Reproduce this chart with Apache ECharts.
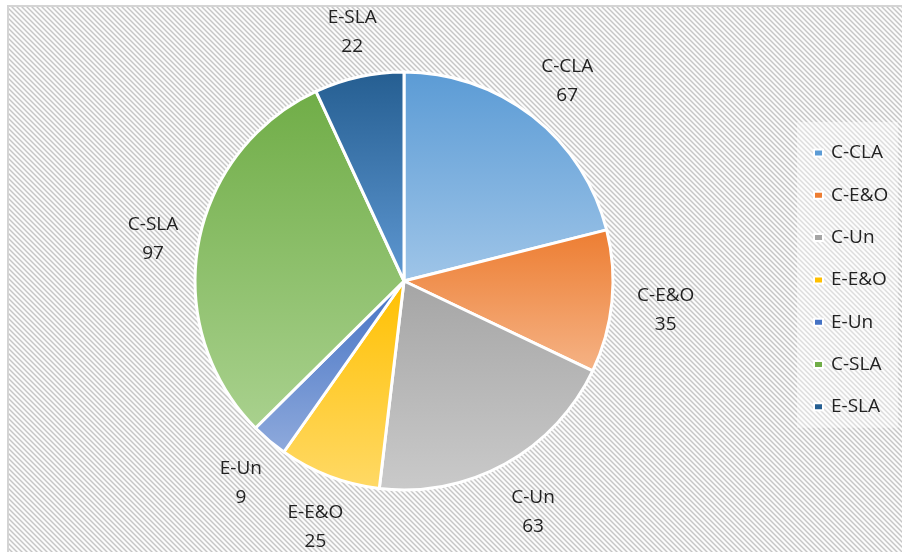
<!DOCTYPE html>
<html>
<head>
<meta charset="utf-8">
<script src="https://cdn.jsdelivr.net/npm/echarts@6/dist/echarts.min.js"></script>
<style>html,body{margin:0;padding:0;background:#fff}#c{width:902px;height:552px}</style>
</head>
<body>
<div id="c"></div>
<script>
var categories = ['C-CLA', 'C-E&O', 'C-Un', 'E-E&O', 'E-Un', 'C-SLA', 'E-SLA'];
var values = [67, 35, 63, 25, 9, 97, 22];
var topColors = ['#5b9bd5', '#ed7d31', '#a5a5a5', '#ffc000', '#4472c4', '#70ad47', '#255e91'];
var bottomColors = ['#9fc5e8', '#f5b386', '#cacaca', '#ffd966', '#8faadc', '#a9d18e', '#5f98d2'];
var legendColors = ['#5b9bd5', '#ed7d31', '#a5a5a5', '#ffc000', '#4472c4', '#70ad47', '#255e91'];

// hatch pattern tile
var tile = document.createElement('canvas');
tile.width = 5; tile.height = 5;
var tctx = tile.getContext('2d');
var img = tctx.createImageData(5, 5);
for (var y = 0; y < 5; y++) {
  for (var x = 0; x < 5; x++) {
    var d = (((x - y) % 5) + 5) % 5;
    var v = d === 0 ? 198 : (d === 1 || d === 4 ? 224 : 252);
    var i = (y * 5 + x) * 4;
    img.data[i] = v; img.data[i + 1] = v; img.data[i + 2] = v; img.data[i + 3] = 255;
  }
}
tctx.putImageData(img, 0, 0);

var chart = echarts.init(document.getElementById('c'), null, {renderer: 'canvas'});
var pieData = categories.map(function (n, i) {
  return {
    name: n, value: values[i],
    itemStyle: {
      color: new echarts.graphic.LinearGradient(0, 0, 0, 1, [
        {offset: 0, color: topColors[i]},
        {offset: 1, color: bottomColors[i]}
      ])
    }
  };
});
var labelData = categories.map(function (n, i) { return {name: n, value: values[i]}; });

var textColor = '#222222';
var fontFamily = '"Open Sans", sans-serif';

chart.setOption({
  animation: false,
  backgroundColor: '#ffffff',
  graphic: [{
    type: 'rect', z: -10, silent: true,
    shape: {x: 8, y: 6, width: 900, height: 560},
    style: {fill: {image: tile, repeat: 'repeat'}, stroke: '#d4d4d4', lineWidth: 2}
  }],
  legend: {
    orient: 'vertical',
    left: 797, top: 122,
    padding: [20, 10, 10, 16],
    backgroundColor: 'rgba(255,255,255,0.4)',
    itemWidth: 9, itemHeight: 7,
    itemGap: 20.3,
    icon: 'rect',
    textStyle: {color: textColor, fontSize: 19, fontFamily: fontFamily, lineHeight: 22, padding: [0, 0, 0, 3]},
    data: categories.map(function (n, i) {
      return {name: n, itemStyle: {color: legendColors[i]}};
    })
  },
  series: [{
    type: 'pie',
    center: [404, 281],
    radius: [0, 209],
    startAngle: 90,
    clockwise: true,
    silent: true,
    label: {show: false},
    labelLine: {show: false},
    itemStyle: {borderColor: '#ffffff', borderWidth: 3},
    data: pieData
  }, {
    type: 'pie',
    center: [408, 285],
    radius: [228, 284],
    startAngle: 90,
    clockwise: true,
    silent: true,
    legendHoverLink: false,
    itemStyle: {color: 'rgba(0,0,0,0)', borderWidth: 0},
    label: {
      show: true, position: 'inside',
      formatter: '{b}\n{c}',
      color: textColor, fontSize: 19, fontFamily: fontFamily, lineHeight: 29
    },
    labelLine: {show: false},
    data: labelData
  }]
});
</script>
</body>
</html>
